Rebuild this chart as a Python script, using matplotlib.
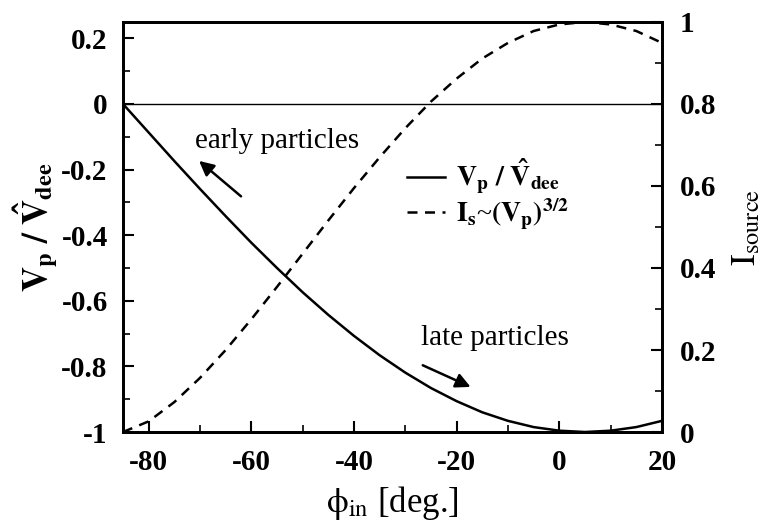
import matplotlib
matplotlib.use("Agg")
import matplotlib.pyplot as plt
from matplotlib.ticker import MultipleLocator

plt.rcParams['font.family'] = ['Liberation Serif', 'DejaVu Serif']
plt.rcParams['mathtext.fontset'] = 'stix'

# phase of injection [deg.]
phi_in = [-85, -80, -75, -70, -65, -60, -55, -50, -45, -40, -35,
          -30, -25, -20, -15, -10, -5, 0, 5, 10, 15, 20]
# puller voltage over dee voltage amplitude
v_ratio = [0.000, -0.087, -0.174, -0.259, -0.342, -0.423, -0.500, -0.574,
           -0.643, -0.707, -0.766, -0.819, -0.866, -0.906, -0.940, -0.966,
           -0.985, -0.996, -1.000, -0.996, -0.985, -0.966]
# source current, normalised
i_source = [0.000, 0.026, 0.073, 0.132, 0.200, 0.275, 0.354, 0.435,
            0.516, 0.595, 0.670, 0.741, 0.806, 0.862, 0.911, 0.949,
            0.978, 0.994, 1.000, 0.994, 0.978, 0.949]

fig = plt.figure(figsize=(7.66, 5.26), dpi=100)
ax = fig.add_axes([0.1606, 0.1787, 0.7036, 0.7795])
ax2 = ax.twinx()

ax.axhline(0, color='black', lw=1.0)
l1, = ax.plot(phi_in, v_ratio, color='black', lw=1.8,
              label=r'$\mathbf{V_p\ /\ \hat{V}_{dee}}$')
l2, = ax2.plot(phi_in, i_source, color='black', lw=1.8, ls=(0, (4, 3)),
               label=r'$\mathbf{I_s}$~$\mathbf{(V_p)^{3/2}}$')

ax.set_xlim(-85, 20)
ax.set_ylim(-1, 0.25)
ax2.set_ylim(0, 1)

ax.xaxis.set_minor_locator(MultipleLocator(10))
ax.yaxis.set_minor_locator(MultipleLocator(0.1))
ax2.yaxis.set_minor_locator(MultipleLocator(0.1))

ax.set_yticks([0.2, 0, -0.2, -0.4, -0.6, -0.8, -1])
ax.set_yticklabels(['0.2', '0', '-0.2', '-0.4', '-0.6', '-0.8', '-1'])
ax.set_xticks([-80, -60, -40, -20, 0, 20])
ax.set_xticklabels(['-80', '-60', '-40', '-20', '0', '20'])
ax2.set_yticks([0, 0.2, 0.4, 0.6, 0.8, 1])
ax2.set_yticklabels(['0', '0.2', '0.4', '0.6', '0.8', '1'])

for a in (ax, ax2):
    a.tick_params(which='major', direction='in', length=8, width=1.5,
                  labelsize=21, pad=11)
    a.tick_params(which='minor', direction='in', length=5, width=1.2)
    for s in a.spines.values():
        s.set_linewidth(2)
    for lab in a.get_xticklabels() + a.get_yticklabels():
        lab.set_fontweight('bold')
ax.tick_params(axis='x', pad=12)
ax2.tick_params(axis='y', pad=13)

ax.set_xlabel(r'$\mathrm{\phi_{in}}$ [deg.]', fontsize=25, labelpad=6)
ax.set_ylabel(r'$\mathbf{V_p\ /\ \hat{V}_{dee}}$', fontsize=25, labelpad=0)
ax2.set_ylabel(r'$\mathrm{I_{source}}$', fontsize=25, labelpad=10)

ax.text(-55, -0.113, 'early particles', fontsize=21, ha='center',
        va='center')
ax.annotate('', xy=(-70.6, -0.168), xytext=(-61.6, -0.287),
            arrowprops=dict(arrowstyle='-|>', color='black', lw=1.8,
                            mutation_scale=22))
ax.text(-12.5, -0.713, 'late particles', fontsize=21, ha='center',
        va='center')
ax.annotate('', xy=(-16.8, -0.866), xytext=(-27.1, -0.793),
            arrowprops=dict(arrowstyle='-|>', color='black', lw=1.8,
                            mutation_scale=22))

ax.legend(handles=[l1, l2], loc='upper left', bbox_to_anchor=(0.527, 0.67),
          frameon=False, fontsize=20, handlelength=1.35, handletextpad=0.4,
          labelspacing=0.0, borderpad=0, borderaxespad=0)

fig.savefig('out.png', dpi=100)
